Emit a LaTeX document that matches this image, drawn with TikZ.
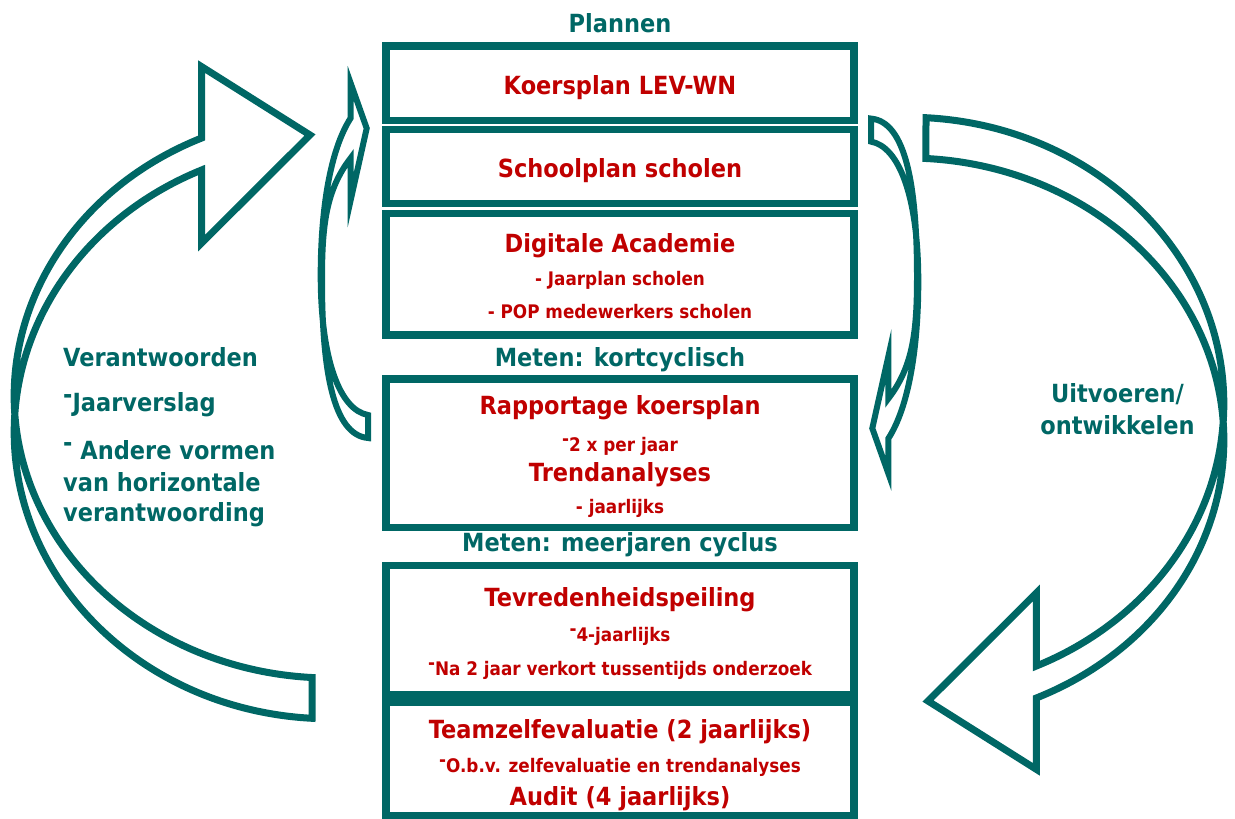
\documentclass[tikz,border=0pt]{standalone}
\usepackage{fontspec}
\setmainfont{DejaVu Sans}[FakeStretch=0.9]
\definecolor{levteal}{RGB}{0,103,101}
\definecolor{levred}{RGB}{192,0,0}
\newcommand\hidash{\raisebox{0.32em}{-}}
\tikzset{box/.style={draw=levteal, line width=7.5pt, minimum width=468pt, inner sep=0pt},
	kop/.style={font=\bfseries\fontsize{25}{29}\selectfont, text=levred, inner sep=0pt, anchor=base},
	sub/.style={font=\bfseries\fontsize{18.7}{22}\selectfont, text=levred, inner sep=0pt, anchor=base},
	fase/.style={font=\bfseries\fontsize{25}{29}\selectfont, text=levteal, inner sep=0pt, anchor=base},
	bigarrow/.style={draw=levteal, line width=7pt, line join=miter},
	smallarrow/.style={draw=levteal, line width=6pt, line join=miter}}

\begin{document}
\begin{tikzpicture}[x=1pt,y=-1pt]
		\useasboundingbox (0,0) rectangle (1235,819);
		% big arrows: left one and its turned copy
		\foreach \turn in {0,180}
		\draw[bigarrow, rotate around={\turn:(619,418)}] (201.7,138)
			arc[start angle=246, end angle=93.3, x radius=316, y radius=282.2] -- (312,718.3)
			arc[start angle=93.3, end angle=246, x radius=316, y radius=286.8]
			-- (201.7,243) -- (310,135) -- (201.7,66.7) -- cycle;
		% small arrows next to the boxes
		\foreach \turn in {0,180}
		\draw[smallarrow, rotate around={\turn:(619.5,278.3)}] (350.7,118)
			.. controls (330,150) and (320.7,210) .. (320.7,275)
			.. controls (320.7,360) and (340,410) .. (368,415) -- (368,438)
			.. controls (333,435) and (322,370) .. (322,280)
			.. controls (322,225) and (326,190) .. (350.7,158)
			-- (350.7,200) -- (366.7,128.3) -- (350.7,83.3) -- cycle;
		% texts
		\node[fase] (plannen) at (620,32) {Plannen};
		\node[kop] (koerst) at (620,94) {Koersplan LEV-WN};
		\node[kop] (schoolt) at (620,177) {Schoolplan scholen};
		\node[kop] (digit) at (620,252.7) {Digitale Academie};
		\node[sub] (jaarpl) at (620,285) {- Jaarplan scholen};
		\node[sub] (pop) at (620,318) {- POP medewerkers scholen};
		\node[fase] (kort) at (620,366.7) {Meten: kortcyclisch};
		\node[kop] (rapp) at (620,414.3) {Rapportage koersplan};
		\node[sub] (tweex) at (620,451.7) {\hidash 2 x per jaar};
		\node[kop] (trend) at (620,481.7) {Trendanalyses};
		\node[sub] (jaarl) at (620,513.3) {- jaarlijks};
		\node[fase] (meer) at (620,551.7) {Meten: meerjaren cyclus};
		\node[kop] (tevr) at (620,606) {Tevredenheidspeiling};
		\node[sub] (vierj) at (620,641.7) {\hidash 4-jaarlijks};
		\node[sub] (na2) at (620,675) {\hidash Na 2 jaar verkort tussentijds onderzoek};
		\node[kop] (team) at (620,738) {Teamzelfevaluatie (2 jaarlijks)};
		\node[sub] (obv) at (620,772.7) {\hidash O.b.v. zelfevaluatie en trendanalyses};
		\node[kop] (audit) at (620,805.5) {Audit (4 jaarlijks)};
		\node[fase, anchor=base west] (verantw) at (63,366.7) {Verantwoorden};
		\node[fase, anchor=base west] (jverslag) at (63,411.7) {\hidash Jaarverslag};
		\node[fase, anchor=base west] (andere) at (63,459.3) {\hidash{} Andere vormen};
		\node[fase, anchor=base west] (horiz) at (63,491.7) {van horizontale};
		\node[fase, anchor=base west] (verantwg) at (63,521.7) {verantwoording};
		\node[fase] (uitv) at (1117.5,402) {Uitvoeren/};
		\node[fase] (ontw) at (1117.5,434) {ontwikkelen};
		% boxes
		\node[box, minimum height=74.5pt] (koers) at (620,83.25) {};
		\node[box, minimum height=74pt] (school) at (620,166.5) {};
		\node[box, minimum height=121.5pt] (academie) at (620,274.25) {};
		\node[box, minimum height=148.5pt] (rapport) at (620,453.25) {};
		\node[box, minimum height=129.5pt] (tevreden) at (620,630.25) {};
		\node[box, minimum height=113.5pt] (teamzelf) at (620,758.75) {};
\end{tikzpicture}
\end{document}
